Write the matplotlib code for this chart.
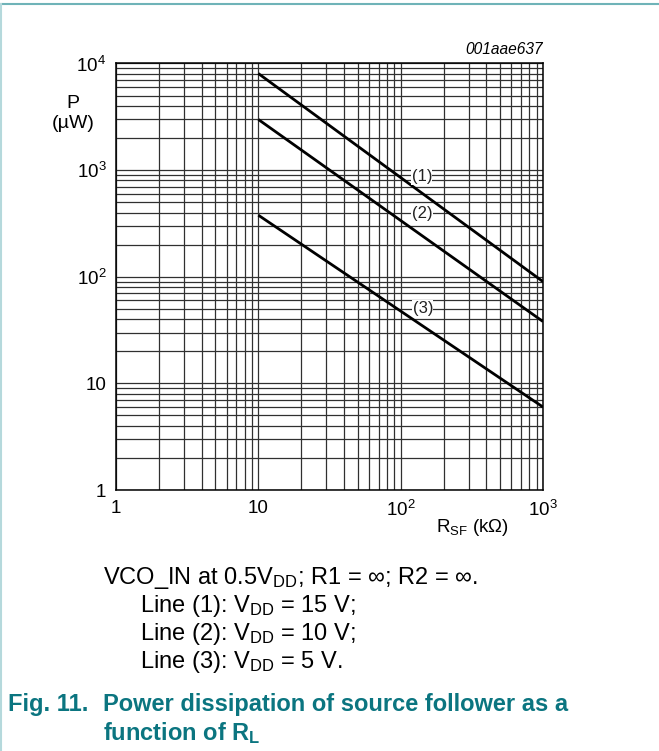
import numpy as np
import matplotlib.pyplot as plt
from matplotlib.lines import Line2D
from matplotlib.ticker import LogLocator, NullFormatter

plt.rcParams['font.family'] = ['Liberation Sans', 'DejaVu Sans']
plt.rcParams['mathtext.fontset'] = 'custom'
plt.rcParams['mathtext.rm'] = 'Liberation Sans'
plt.rcParams['mathtext.it'] = 'Liberation Sans:italic'
plt.rcParams['mathtext.bf'] = 'Liberation Sans:bold'

# values (straight lines on log-log)
r_sf = [10, 1000]                 # kOhm
p_line1 = [8050, 90]              # VDD = 15 V
p_line2 = [2985, 38]              # VDD = 10 V
p_line3 = [378, 6.0]              # VDD = 5 V
curve_tags = ["(1)", "(2)", "(3)"]
tag_pos = [(141, 866), (141, 393), (143, 50.6)]

x_ticks = [1, 10, 100, 1000]
x_ticklabels = ["1", "10", r"$10^2$", r"$10^3$"]
y_ticks = [1, 10, 100, 1000, 10000]
y_ticklabels = ["1", "10", r"$10^2$", r"$10^3$", r"$10^4$"]

teal = "#0b7580"

fig = plt.figure(figsize=(6.59, 7.51), dpi=100)
ax = fig.add_axes([0.176, 0.3475, 0.648, 0.568])
ax.set_xscale("log")
ax.set_yscale("log")
ax.set_xlim(1, 1000)
ax.set_ylim(1, 10000)

ax.xaxis.set_minor_locator(LogLocator(base=10, subs=np.arange(2, 10)))
ax.yaxis.set_minor_locator(LogLocator(base=10, subs=np.arange(2, 10)))
ax.xaxis.set_minor_formatter(NullFormatter())
ax.yaxis.set_minor_formatter(NullFormatter())
ax.grid(True, which="both", color="#303030", lw=0.9)
ax.set_axisbelow(True)
ax.tick_params(which="both", length=0, labelsize=13.5)
ax.tick_params(axis="x", pad=7)
ax.tick_params(axis="y", pad=7)
ax.set_xticks(x_ticks)
ax.set_xticklabels(x_ticklabels)
ax.set_yticks(y_ticks)
ax.set_yticklabels(y_ticklabels)
for s in ax.spines.values():
    s.set_linewidth(1.1)

for p in [p_line1, p_line2, p_line3]:
    ax.plot(r_sf, p, color="black", lw=2.0, solid_capstyle="butt")

for tag, (tx, ty) in zip(curve_tags, tag_pos):
    ax.text(tx, ty, tag, fontsize=12, ha="center", va="center", color="#222222",
            bbox=dict(facecolor="white", edgecolor="none", pad=0.3))

fig.text(73 / 659, 1 - 103 / 751, "P", fontsize=14, ha="center", va="center")
fig.text(73 / 659, 1 - 124 / 751, "(µW)", fontsize=14, ha="center", va="center")
fig.text(472 / 659, 1 - 528 / 751, r"R$_{\mathrm{SF}}$ (kΩ)", fontsize=13.5,
         ha="center", va="center")
fig.text(543 / 659, 1 - 49 / 751, "001aae637", fontsize=11.2, style="italic",
         ha="right", va="center")

# notes below the chart
fig.text(103 / 659, 1 - 578 / 751, r"VCO_IN at 0.5V$_{\mathrm{DD}}$; R1 = ∞; R2 = ∞.",
         fontsize=17, ha="left", va="center")
notes = [r"Line (1): V$_{\mathrm{DD}}$ = 15 V;",
         r"Line (2): V$_{\mathrm{DD}}$ = 10 V;",
         r"Line (3): V$_{\mathrm{DD}}$ = 5 V."]
for i, n in enumerate(notes):
    fig.text(140 / 659, 1 - (606 + 28 * i) / 751, n, fontsize=17, ha="left", va="center")

fig.text(8 / 659, 1 - 705 / 751, "Fig. 11.", fontsize=17, fontweight="bold",
         color=teal, ha="left", va="center")
fig.text(103 / 659, 1 - 705 / 751, "Power dissipation of source follower as a",
         fontsize=17, fontweight="bold", color=teal, ha="left", va="center")
fig.text(103 / 659, 1 - 733 / 751, r"function of R$_{\mathbf{L}}$", fontsize=17,
         fontweight="bold", color=teal, ha="left", va="center")

# page frame lines
fig.add_artist(Line2D([0, 1], [1 - 3.5 / 751, 1 - 3.5 / 751], color="#6fb3b8", lw=1.5))
fig.add_artist(Line2D([0.5 / 659, 0.5 / 659], [0, 1 - 3.5 / 751], color="#b5d9dc", lw=1.5))

fig.savefig("out.png", dpi=100)
